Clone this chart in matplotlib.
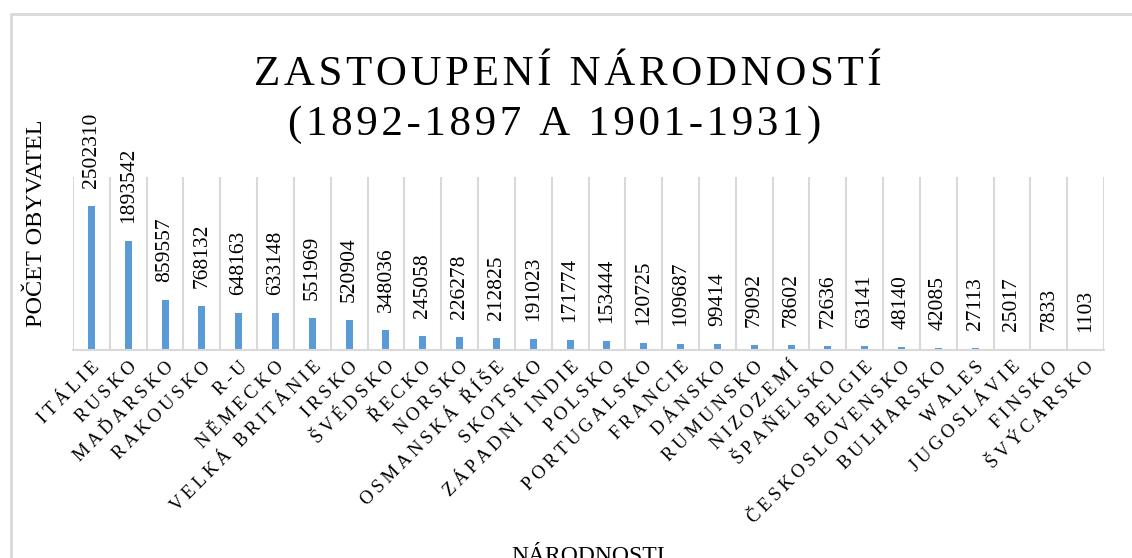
import matplotlib
matplotlib.use("Agg")
import matplotlib.pyplot as plt
from matplotlib.patches import Rectangle

plt.rcParams["font.family"] = ["Liberation Serif", "DejaVu Serif"]

countries = [
    "ITÁLIE", "RUSKO", "MAĎARSKO", "RAKOUSKO", "R-U", "NĚMECKO", "VELKÁ BRITÁNIE",
    "IRSKO", "ŠVÉDSKO", "ŘECKO", "NORSKO", "OSMANSKÁ ŘÍŠE", "SKOTSKO",
    "ZÁPADNÍ INDIE", "POLSKO", "PORTUGALSKO", "FRANCIE", "DÁNSKO", "RUMUNSKO",
    "NIZOZEMÍ", "ŠPAŇELSKO", "BELGIE", "ČESKOSLOVENSKO", "BULHARSKO", "WALES",
    "JUGOSLÁVIE", "FINSKO", "ŠVÝCARSKO",
]
population = [
    2502310, 1893542, 859557, 768132, 648163, 633148, 551969,
    520904, 348036, 245058, 226278, 212825, 191023,
    171774, 153444, 120725, 109687, 99414, 79092,
    78602, 72636, 63141, 48140, 42085, 27113,
    25017, 7833, 1103,
]

W, H = 1132, 558
fig = plt.figure(figsize=(W / 100, H / 100), dpi=100)
grey = "#d9d9d9"

# outer chart frame, runs off the image on the right and bottom like the source
fig.patches.append(Rectangle((10.5 / W, -0.2), 1.2, 1.2 - 13.5 / H,
                             transform=fig.transFigure, fill=False,
                             edgecolor=grey, lw=2))

ax = fig.add_axes([73 / W, 1 - 350 / H, (1104 - 73) / W, (350 - 177) / H])
x = list(range(len(countries)))
ax.bar(x, population, width=0.19, color="#5b9bd5", zorder=2)
for xi, v in zip(x, population):
    ax.annotate(f"{v}", (xi, v), xytext=(0, 13), textcoords="offset points",
                rotation=90, ha="center", va="bottom", fontsize=15.5)

ax.set_xlim(-0.5, len(countries) - 0.5)
ax.set_ylim(0, 3000000)
for b in range(len(countries) + 1):
    ax.axvline(b - 0.5, color=grey, lw=1.5, zorder=1)
for s in ("top", "left", "right"):
    ax.spines[s].set_visible(False)
ax.spines["bottom"].set_color(grey)
ax.spines["bottom"].set_linewidth(1.5)
ax.set_yticks([])
spaced = ["\u2009".join(name) for name in countries]
ax.set_xticks(x, labels=spaced, rotation=45, ha="right",
              rotation_mode="anchor", fontsize=13.5)
ax.tick_params(axis="x", length=0, pad=6)

title1 = "\u200a".join("ZASTOUPENÍ NÁRODNOSTÍ")
title2 = "\u200a".join("(1892-1897 A 1901-1931)")
fig.text(568 / W, 1 - 85 / H, title1, ha="center", va="baseline", fontsize=31)
fig.text(555 / W, 1 - 135 / H, title2, ha="center", va="baseline", fontsize=31)
fig.text(37 / W, 1 - 223 / H, "POČET OBYVATEL", rotation=90, ha="center",
         va="center", fontsize=17.5)
fig.text(588 / W, 1 - 562 / H, "NÁRODNOSTI", ha="center", va="baseline",
         fontsize=17)

fig.savefig("out.png", dpi=100)
